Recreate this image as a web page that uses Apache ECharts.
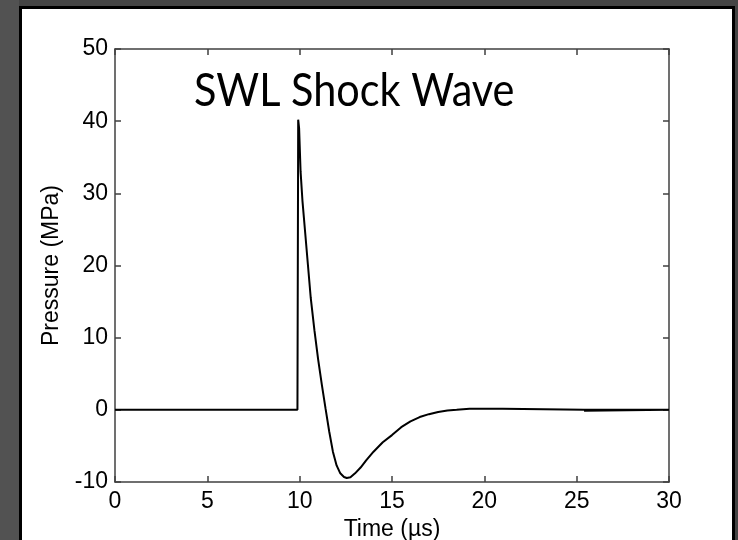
<!DOCTYPE html>
<html>
<head>
<meta charset="utf-8">
<script src="https://cdn.jsdelivr.net/npm/echarts@6/dist/echarts.min.js"></script>
<style>
  html, body { margin: 0; padding: 0; width: 738px; height: 540px; overflow: hidden; background: #454545; }
  #strip { position: absolute; left: 0; top: 0; width: 19px; height: 540px; background: #525252; }
  #panel { position: absolute; left: 19px; top: 6px; width: 716px; height: 560px; background: #fff; border: 3px solid #000; box-sizing: border-box; }
  #chart { position: absolute; left: 0; top: 0; width: 738px; height: 540px; }
</style>
</head>
<body>
<div id="strip"></div>
<div id="panel"></div>
<div id="chart"></div>
<script>
// Shock wave pressure trace (time in microseconds, pressure in MPa)
const timeUs = [0, 9.88, 9.92, 9.97, 10.05, 10.15, 10.3, 10.45, 10.6, 10.8, 11.0, 11.2, 11.4, 11.6, 11.8, 12.0, 12.2, 12.4, 12.55, 12.75, 13.0, 13.3, 13.6, 14.0, 14.5, 15.0, 15.5, 16.0, 16.5, 17.0, 17.5, 18.0, 18.5, 19.2, 21.0, 21.1, 25.4, 30, 30, 25.4];
const pressureMPa = [0, 0, 40.2, 39, 33, 29, 24.5, 20, 15.5, 11, 7, 3.5, 0.2, -3, -5.8, -7.7, -8.8, -9.3, -9.45, -9.35, -8.8, -8.0, -7.0, -5.8, -4.5, -3.5, -2.4, -1.6, -1.0, -0.6, -0.3, -0.1, 0, 0.15, 0.15, 0, 0, 0, -0.12, -0.12];

const xTicks = { min: 0, max: 30, step: 5 };
const yTicks = { min: -10, max: 50, step: 10 };

const titleText = 'SWL Shock Wave';
const xName = 'Time (\u00b5s)';
const yName = 'Pressure (MPa)';

const series = timeUs.map((t, i) => [t, pressureMPa[i]]);

const axisColor = '#404040';
const labelFont = { color: '#000', fontFamily: 'Liberation Sans, Arial, sans-serif', fontSize: 23 };

const chart = echarts.init(document.getElementById('chart'), null, { renderer: 'canvas' });

const boxAxis = (extra) => Object.assign({
  type: 'value',
  axisLine: { show: true, onZero: false, lineStyle: { color: axisColor, width: 1.5 } },
  axisTick: { show: true, inside: true, length: 6, lineStyle: { color: axisColor, width: 1.5 } },
  splitLine: { show: false },
  minorTick: { show: false }
}, extra);

chart.setOption({
  backgroundColor: 'transparent',
  animation: false,
  grid: { left: 115, right: 69, top: 49, bottom: 58, containLabel: false, outerBoundsMode: 'none' },
  xAxis: [
    boxAxis({
      position: 'bottom', min: xTicks.min, max: xTicks.max, interval: xTicks.step,
      axisLabel: Object.assign({ margin: 8 }, labelFont),
      name: xName, nameLocation: 'middle', nameGap: 36,
      nameTextStyle: Object.assign({}, labelFont)
    }),
    boxAxis({
      position: 'top', min: xTicks.min, max: xTicks.max, interval: xTicks.step,
      axisLabel: { show: false }
    })
  ],
  yAxis: [
    boxAxis({
      position: 'left', min: yTicks.min, max: yTicks.max, interval: yTicks.step,
      axisLabel: Object.assign({ margin: 7 }, labelFont),
      name: yName, nameLocation: 'middle', nameGap: 52, nameRotate: 90,
      nameTextStyle: Object.assign({}, labelFont)
    }),
    boxAxis({
      position: 'right', min: yTicks.min, max: yTicks.max, interval: yTicks.step,
      axisLabel: { show: false }
    })
  ],
  graphic: [{
    type: 'text',
    x: 194,
    y: 68,
    scaleX: 0.9,
    z: 10,
    style: {
      text: titleText,
      fill: '#000',
      font: '46px Lato, "Open Sans", sans-serif'
    }
  }],
  series: [{
    type: 'line',
    data: series,
    showSymbol: false,
    smooth: false,
    lineStyle: { color: '#000', width: 2 },
    z: 3
  }]
});
</script>
</body>
</html>
